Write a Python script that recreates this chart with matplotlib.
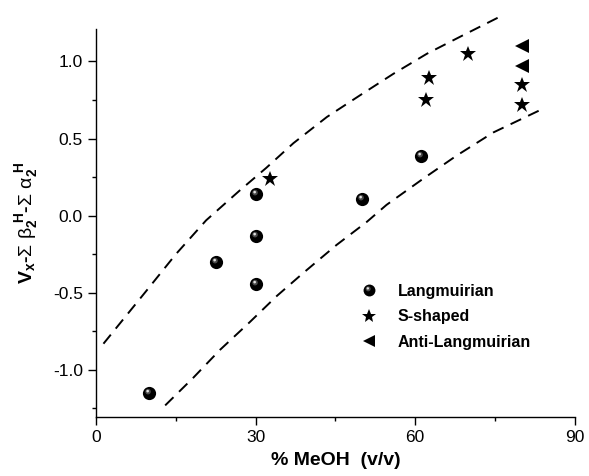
import numpy as np
import matplotlib
matplotlib.use("Agg")
import matplotlib.pyplot as plt
from matplotlib.path import Path
from matplotlib.legend_handler import HandlerTuple
from matplotlib.ticker import MultipleLocator

plt.rcParams['font.family'] = ['Liberation Sans', 'DejaVu Sans']
plt.rcParams['axes.unicode_minus'] = False
plt.rcParams['mathtext.fontset'] = 'custom'
plt.rcParams['mathtext.rm'] = 'Liberation Sans'
plt.rcParams['mathtext.it'] = 'Liberation Sans'
plt.rcParams['mathtext.bf'] = 'Liberation Sans:bold'

# Data
lang_x = [10, 22.5, 30, 30, 30, 50, 61]
lang_y = [-1.15, -0.30, 0.14, -0.13, -0.44, 0.11, 0.39]
s_x = [32.7, 62, 62.6, 70, 80, 80]
s_y = [0.24, 0.75, 0.89, 1.045, 0.85, 0.72]
anti_x = [80, 80]
anti_y = [1.10, 0.97]

# dashed boundary curves (nodes)
upper_x = [1.4, 9.4, 15.0, 20.7, 26.9, 32.0, 37.1, 43.4, 49.6, 55.9, 62.2, 69.0, 75.9]
upper_y = [-0.83, -0.49, -0.25, -0.03, 0.16, 0.31, 0.47, 0.64, 0.78, 0.92, 1.05, 1.17, 1.29]
lower_x = [13.0, 18.3, 23.3, 28.9, 34.0, 39.0, 45.2, 50.9, 54.6, 61.5, 67.8, 74.7, 83.8]
lower_y = [-1.23, -1.05, -0.87, -0.69, -0.52, -0.37, -0.19, -0.04, 0.07, 0.24, 0.39, 0.54, 0.69]


def blob(cx, cy, r):
    # small circle inside a fixed [-1, 1] frame so the marker keeps its offset
    t = np.linspace(0, 2 * np.pi, 40)
    circ = np.column_stack([cx + r * np.cos(t), cy + r * np.sin(t)])
    verts = np.vstack([[[-1, -1]], [[1, 1]], circ])
    codes = [Path.MOVETO, Path.MOVETO, Path.MOVETO] + [Path.LINETO] * 38 + [Path.CLOSEPOLY]
    return Path(verts, codes)


hl1 = blob(-0.22, 0.28, 0.42)
hl2 = blob(-0.28, 0.36, 0.2)

fig = plt.figure(figsize=(5.89, 4.76), dpi=100)
ax = fig.add_axes([0.163, 0.124, 0.813, 0.815])

dash = (0, (6, 4))
ax.plot(upper_x, upper_y, color='black', lw=1.4, linestyle=dash, clip_on=False)
ax.plot(lower_x, lower_y, color='black', lw=1.4, linestyle=dash, clip_on=False)

ms = 9.5
h0, = ax.plot(lang_x, lang_y, 'o', color='black', ms=ms, mew=0)
h1, = ax.plot(lang_x, lang_y, linestyle='none', marker=hl1, color='#4a4a4a', ms=ms, mew=0)
h2, = ax.plot(lang_x, lang_y, linestyle='none', marker=hl2, color='#e0e0e0', ms=ms, mew=0)
hs, = ax.plot(s_x, s_y, '*', color='black', ms=12, mew=0)
ha, = ax.plot(anti_x, anti_y, '<', color='black', ms=10, mew=0)

ax.set_xlim(0, 90)
ax.set_ylim(-1.305, 1.21)
ax.xaxis.set_major_locator(MultipleLocator(30))
ax.xaxis.set_minor_locator(MultipleLocator(15))
ax.yaxis.set_minor_locator(MultipleLocator(0.25))
ax.set_yticks([-1.0, -0.5, 0.0, 0.5, 1.0])
ax.set_yticklabels(['-1.0', '-0.5', '0.0', '0.5', '1.0'])
for s in ['top', 'right']:
    ax.spines[s].set_visible(False)
for s in ['left', 'bottom']:
    ax.spines[s].set_linewidth(1.0)
ax.tick_params(which='major', direction='out', length=6, width=1.0, labelsize=12.5)
ax.tick_params(which='minor', direction='out', length=3, width=1.0)

ax.set_xlabel('% MeOH  (v/v)', fontsize=14, fontweight='bold', labelpad=5)
ax.set_ylabel(r'$\mathbf{V_x}$-$\Sigma\ \beta_\mathbf{2}^{\ \mathbf{H}}$-$\Sigma\ \alpha_\mathbf{2}^{\ \mathbf{H}}$',
              fontsize=14, fontweight='bold', labelpad=9)

leg = ax.legend([(h0, h1, h2), hs, ha], ['Langmuirian', 'S-shaped', 'Anti-Langmuirian'],
                handler_map={tuple: HandlerTuple(ndivide=1, pad=0)},
                loc='upper left', bbox_to_anchor=(0.52, 0.38), frameon=False,
                prop={'weight': 'bold', 'size': 11.5}, handlelength=1.2,
                handletextpad=1.2, labelspacing=0.65, markerscale=0.9)

fig.savefig('out.png', dpi=100)
